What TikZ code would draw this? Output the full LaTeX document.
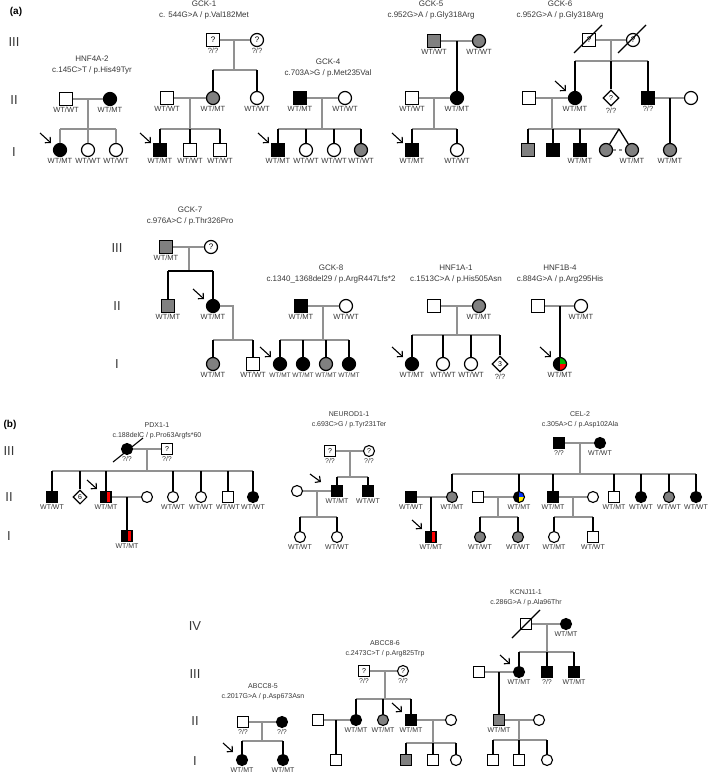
\documentclass[tikz,border=0pt]{standalone}
\usepackage{fontspec}
\setmainfont{Liberation Sans}
\usetikzlibrary{shapes.geometric,arrows.meta,calc}
\definecolor{symgray}{RGB}{128,128,128}
\definecolor{linegray}{RGB}{145,145,145}
\definecolor{txtgray}{RGB}{55,55,55}
\begin{document}
\begin{tikzpicture}[
    x=1pt, y=-1pt,
    ind/.style={draw,line width=1.2pt,inner sep=0pt,minimum size=13pt,font=\fontsize{8}{8}\selectfont},
    male/.style={ind,rectangle},
    fem/.style={ind,circle},
    unk/.style={ind,diamond,minimum size=16pt,font=\fontsize{7}{7}\selectfont},
    aff/.style={fill=black},
    gry/.style={fill=symgray},
    halfred/.style={fill=black,path picture={\fill[red] ([xshift=1pt]path picture bounding box.north) rectangle ([xshift=-1.5pt]path picture bounding box.south east);}},
    yelblu/.style={fill=black,path picture={
        \fill[blue!80!cyan] (path picture bounding box.center) rectangle (path picture bounding box.north east);
        \fill[yellow] (path picture bounding box.center) rectangle (path picture bounding box.south east);}},
    grnred/.style={fill=black,path picture={
        \fill[green!70!black] (path picture bounding box.center) rectangle (path picture bounding box.north east);
        \fill[red] (path picture bounding box.center) rectangle (path picture bounding box.south east);}},
    lbl/.style={font=\fontsize{7.5}{7.5}\selectfont,text=txtgray,inner sep=0pt,text height=5.5pt,text depth=0pt},
    gt/.style={label={[lbl]below:#1}},
    sgt/.style={label={[lbl,font=\fontsize{6.5}{6.5}\selectfont]below:#1}},
    label distance=1pt,
    ttl/.style={font=\fontsize{8}{11}\selectfont,text=txtgray,align=center},
    gen/.style={font=\fontsize{13}{13}\selectfont,text=txtgray},
    gl/.style={draw=linegray,line width=1.3pt},
    bl/.style={draw=black,line width=1.3pt},
    prb/.style={line width=1.1pt,-{Straight Barb[length=4pt,width=8pt]}},
    dead/.style={line width=1.1pt}
]
\useasboundingbox (0,0) rectangle (709,776);

% panel (a), first row
\node[font=\bfseries\fontsize{10}{10}\selectfont] (pa) at (16,12) {(a)};
\node[gen] (ra3) at (14,42) {III};
\node[gen] (ra2) at (14,100) {II};
\node[gen] (ra1) at (14,152) {I};

% HNF4A-2
\node[ttl] (h4t) at (92,65) {HNF4A-2\\c.145C>T / p.His49Tyr};
\node[male,gt=WT/WT] (h4m) at (66,99) {};
\node[fem,aff,gt=WT/MT] (h4f) at (110,99) {};
\node[fem,aff,gt=WT/MT] (h4k1) at (60,150) {};
\node[fem,gt=WT/WT] (h4k2) at (88,150) {};
\node[fem,gt=WT/WT] (h4k3) at (116,150) {};
\coordinate (h4s) at (88,129);
\draw[gl] (h4m) -- (h4f);
\draw[gl] (h4s |- h4m) -- (h4s);
\draw[gl] (h4k1 |- h4s) -- (h4k3 |- h4s);
\foreach \c in {h4k1,h4k2,h4k3} \draw[gl] (\c |- h4s) -- (\c);

% GCK-1
\node[ttl] (g1t) at (204,10) {GCK-1\\c. 544G>A / p.Val182Met};
\node[male,gt=?/?] (g1a) at (213,40) {?};
\node[fem,gt=?/?] (g1b) at (257,40) {?};
\node[fem,gry,gt=WT/MT] (g1c) at (213,98) {};
\node[fem,gt=WT/WT] (g1d) at (257,98) {};
\node[male,gt=WT/WT] (g1e) at (167,98) {};
\node[male,aff,gt=WT/MT] (g1k1) at (160,150) {};
\node[male,gt=WT/WT] (g1k2) at (190,150) {};
\node[male,gt=WT/WT] (g1k3) at (220,150) {};
\coordinate (g1s) at (234,70);
\coordinate (g1u) at (190,129);
\draw[gl] (g1a) -- (g1b);
\draw[gl] (g1s |- g1a) -- (g1s);
\draw[gl] (g1c |- g1s) -- (g1d |- g1s);
\foreach \c in {g1c,g1d} \draw[bl] (\c |- g1s) -- (\c);
\draw[gl] (g1e) -- (g1c);
\draw[gl] (g1u |- g1e) -- (g1u);
\draw[gl] (g1k1 |- g1u) -- (g1k3 |- g1u);
\foreach \c in {g1k1,g1k2,g1k3} \draw[bl] (\c |- g1u) -- (\c);

% GCK-4
\node[ttl] (g4t) at (328,68) {GCK-4\\c.703A>G / p.Met235Val};
\node[male,aff,gt=WT/MT] (g4a) at (300,98) {};
\node[fem,gt=WT/WT] (g4b) at (345,98) {};
\node[male,aff,gt=WT/MT] (g4k1) at (278,150) {};
\node[fem,gt=WT/WT] (g4k2) at (306,150) {};
\node[fem,gt=WT/WT] (g4k3) at (334,150) {};
\node[fem,gry,gt=WT/WT] (g4k4) at (361,150) {};
\coordinate (g4s) at (322,129);
\draw[gl] (g4a) -- (g4b);
\draw[gl] (g4s |- g4a) -- (g4s);
\draw[gl] (g4k1 |- g4s) -- (g4k4 |- g4s);
\foreach \c in {g4k1,g4k2,g4k3,g4k4} \draw[bl] (\c |- g4s) -- (\c);

% GCK-5
\node[ttl] (g5t) at (431,10) {GCK-5\\c.952G>A / p.Gly318Arg};
\node[male,gry,gt=WT/WT] (g5a) at (434,41) {};
\node[fem,gry,gt=WT/WT] (g5b) at (479,41) {};
\node[fem,aff,gt=WT/MT] (g5c) at (457,98) {};
\node[male,gt=WT/WT] (g5d) at (412,98) {};
\node[male,aff,gt=WT/MT] (g5k1) at (412,150) {};
\node[fem,gt=WT/WT] (g5k2) at (457,150) {};
\coordinate (g5s) at (434,129);
\draw[gl] (g5a) -- (g5b);
\draw[bl] (g5c |- g5a) -- (g5c);
\draw[gl] (g5d) -- (g5c);
\draw[gl] (g5s |- g5d) -- (g5s);
\draw[gl] (g5k1 |- g5s) -- (g5k2 |- g5s);
\foreach \c in {g5k1,g5k2} \draw[bl] (\c |- g5s) -- (\c);

% GCK-6
\node[ttl] (g6t) at (560,10) {GCK-6\\c.952G>A / p.Gly318Arg};
\node[male] (g6a) at (589,40) {?};
\node[fem] (g6b) at (633,40) {?};
\node[fem,aff,gt=WT/MT] (g6c) at (575,98) {};
\node[unk,gt=?/?] (g6d) at (611,98) {?};
\node[male,aff,gt=?/?] (g6e) at (648,98) {};
\node[male] (g6f) at (529,98) {};
\node[fem] (g6g) at (691,98) {};
\node[male,gry] (g6k1) at (528,150) {};
\node[male,aff] (g6k2) at (553,150) {};
\node[male,aff,gt=WT/MT] (g6k3) at (580,150) {};
\node[fem,gry] (g6k4) at (606,150) {};
\node[fem,gry,gt=WT/MT] (g6k5) at (632,150) {};
\node[fem,gry,gt=WT/MT] (g6k6) at (670,150) {};
\coordinate (g6s) at (611,61);
\coordinate (g6u) at (552,129);
\coordinate (g6w) at (619,129);
\draw[gl] (g6a) -- (g6b);
\draw[gl] (g6s |- g6a) -- (g6s);
\draw[gl] (g6c |- g6s) -- (g6e |- g6s);
\foreach \c in {g6c,g6d,g6e} \draw[bl] (\c |- g6s) -- (\c);
\draw[gl] (g6f) -- (g6c);
\draw[gl] (g6u |- g6f) -- (g6u);
\draw[gl] (g6k1 |- g6u) -- (g6w);
\foreach \c in {g6k1,g6k2,g6k3} \draw[bl] (\c |- g6u) -- (\c);
\draw[bl] (g6w) -- (g6k4);
\draw[bl] (g6w) -- (g6k5);
\draw[gl,dashed] (g6k4) -- (g6k5);
\draw[gl] (g6e) -- (g6g);
\draw[bl] (g6k6 |- g6e) -- (g6k6);
\foreach \n in {g6a,g6b} \draw[dead] ([shift={(-15pt,-13pt)}]\n.center) -- ([shift={(13pt,15pt)}]\n.center);

% panel (a), second row
\node[gen] (rb3) at (117,248) {III};
\node[gen] (rb2) at (117,306) {II};
\node[gen] (rb1) at (117,364) {I};

% GCK-7
\node[ttl] (g7t) at (190,216) {GCK-7\\c.976A>C / p.Thr326Pro};
\node[male,gry,gt=WT/MT] (g7a) at (166,247) {};
\node[fem] (g7b) at (211,247) {?};
\node[male,gry,gt=WT/MT] (g7c) at (168,306) {};
\node[fem,aff,gt=WT/MT] (g7d) at (213,306) {};
\node[fem,gry,gt=WT/MT] (g7k1) at (213,364) {};
\node[male,gt=WT/WT] (g7k2) at (253,364) {};
\coordinate (g7s) at (189,271);
\coordinate (g7u) at (233,340);
\draw[gl] (g7a) -- (g7b);
\draw[gl] (g7s |- g7a) -- (g7s);
\draw[bl] (g7c |- g7s) -- (g7d |- g7s);
\foreach \c in {g7c,g7d} \draw[bl] (\c |- g7s) -- (\c);
\draw[gl] (g7d) -- (g7u |- g7d) -- (g7u);
\draw[gl] (g7k1 |- g7u) -- (g7k2 |- g7u);
\foreach \c in {g7k1,g7k2} \draw[bl] (\c |- g7u) -- (\c);

% GCK-8
\node[ttl] (g8t) at (331,274) {GCK-8\\c.1340\_1368del29 / p.ArgR447Lfs*2};
\node[male,aff,gt=WT/MT] (g8a) at (301,306) {};
\node[fem,gt=WT/WT] (g8b) at (346,306) {};
\node[fem,aff,sgt=WT/MT] (g8k1) at (280,364) {};
\node[fem,aff,sgt=WT/MT] (g8k2) at (303,364) {};
\node[fem,gry,sgt=WT/MT] (g8k3) at (326,364) {};
\node[fem,aff,sgt=WT/MT] (g8k4) at (349,364) {};
\coordinate (g8s) at (323,340);
\draw[gl] (g8a) -- (g8b);
\draw[gl] (g8s |- g8a) -- (g8s);
\draw[gl] (g8k1 |- g8s) -- (g8k4 |- g8s);
\foreach \c in {g8k1,g8k2,g8k3,g8k4} \draw[bl] (\c |- g8s) -- (\c);

% HNF1A-1
\node[ttl] (hat) at (456,274) {HNF1A-1\\c.1513C>A / p.His505Asn};
\node[male] (haa) at (434,306) {};
\node[fem,gry,gt=WT/MT] (hab) at (479,306) {};
\node[fem,aff,gt=WT/MT] (hak1) at (412,364) {};
\node[fem,gt=WT/WT] (hak2) at (443,364) {};
\node[fem,gt=WT/WT] (hak3) at (471,364) {};
\node[unk,gt=?/?] (hak4) at (500,364) {3};
\coordinate (has) at (457,335);
\draw[gl] (haa) -- (hab);
\draw[gl] (has |- haa) -- (has);
\draw[gl] (hak1 |- has) -- (hak4 |- has);
\foreach \c in {hak1,hak2,hak3,hak4} \draw[bl] (\c |- has) -- (\c);

% HNF1B-4
\node[ttl] (hbt) at (560,274) {HNF1B-4\\c.884G>A / p.Arg295His};
\node[male] (hba) at (538,306) {};
\node[fem,gt=WT/MT] (hbb) at (581,306) {};
\node[fem,grnred,gt=WT/MT] (hbk) at (560,364) {};
\draw[gl] (hba) -- (hbb);
\draw[bl] (hbk |- hba) -- (hbk);

\foreach \n in {h4k1,g1k1,g4k1,g5k1,g6c,g7d,g8k1,hak1,hbk}
    \draw[prb] ([shift={(-20pt,17pt)}]\n.center) -- ([shift={(-9pt,7pt)}]\n.center);

% panel (b) and bottom row, smaller symbols
\begin{scope}[ind/.append style={minimum size=11pt,line width=1.1pt,font=\fontsize{7}{7}\selectfont},
    unk/.append style={minimum size=14pt},
    lbl/.append style={font=\fontsize{7}{7}\selectfont,text height=5pt},
    ttl/.append style={font=\fontsize{7}{10.5}\selectfont},
    gl/.append style={line width=1.2pt}, bl/.append style={line width=1.2pt}]

\node[font=\bfseries\fontsize{10}{10}\selectfont] (pb) at (10,425) {(b)};
\node[gen] (rc3) at (9,451) {III};
\node[gen] (rc2) at (9,497) {II};
\node[gen] (rc1) at (9,536) {I};

% PDX1-1
\node[ttl] (pdt) at (157,431) {PDX1-1\\c.188delC / p.Pro63Argfs*60};
\node[fem,aff,gt=?/?] (pda) at (127,449) {};
\node[male,gt=?/?] (pdb) at (167,449) {?};
\node[male,aff,gt=WT/WT] (pdk1) at (52,497) {};
\node[unk] (pdk2) at (80,497) {6};
\node[male,halfred,gt=WT/MT] (pdk3) at (106,497) {};
\node[fem] (pdc) at (147,497) {};
\node[fem,gt=WT/WT] (pdk4) at (173,497) {};
\node[fem,gt=WT/WT] (pdk5) at (201,497) {};
\node[male,gt=WT/WT] (pdk6) at (228,497) {};
\node[fem,aff,gt=WT/WT] (pdk7) at (253,497) {};
\node[male,halfred,gt=WT/MT] (pdg) at (127,536) {};
\coordinate (pds) at (147,471);
\draw[gl] (pda) -- (pdb);
\draw[gl] (pds |- pda) -- (pds);
\draw[gl] (pdk1 |- pds) -- (pdk7 |- pds);
\foreach \c in {pdk1,pdk2,pdk3,pdk4,pdk5,pdk6,pdk7} \draw[bl] (\c |- pds) -- (\c);
\draw[gl] (pdk3) -- (pdc);
\draw[bl] (pdg |- pdc) -- (pdg);
\draw[dead] ([shift={(-14pt,-13pt)}]pda.center) -- ([shift={(16pt,11pt)}]pda.center);

% NEUROD1-1
\node[ttl] (ndt) at (349,420) {NEUROD1-1\\c.693C>G / p.Tyr231Ter};
\node[male,gt=?/?] (nda) at (330,451) {?};
\node[fem,gt=?/?] (ndb) at (369,451) {?};
\node[male,aff,gt=WT/MT] (ndc) at (337,491) {};
\node[male,aff,gt=WT/WT] (ndd) at (368,491) {};
\node[fem] (nde) at (297,491) {};
\node[fem,gt=WT/WT] (ndk1) at (300,537) {};
\node[fem,gt=WT/WT] (ndk2) at (337,537) {};
\coordinate (nds) at (350,477);
\coordinate (ndu) at (317,517);
\draw[gl] (nda) -- (ndb);
\draw[gl] (nds |- nda) -- (nds);
\draw[gl] (ndc |- nds) -- (ndd |- nds);
\foreach \c in {ndc,ndd} \draw[bl] (\c |- nds) -- (\c);
\draw[gl] (nde) -- (ndc);
\draw[gl] (ndu |- nde) -- (ndu);
\draw[gl] (ndk1 |- ndu) -- (ndk2 |- ndu);
\foreach \c in {ndk1,ndk2} \draw[bl] (\c |- ndu) -- (\c);
\draw[prb] ([shift={(-27pt,17pt)}]ndc.center) -- ([shift={(-16pt,9pt)}]ndc.center);

% CEL-2
\node[ttl] (cet) at (580,420) {CEL-2\\c.305A>C / p.Asp102Ala};
\node[male,aff,gt=?/?] (cea) at (559,443) {};
\node[fem,aff,gt=WT/WT] (ceb) at (600,443) {};
\node[male,aff,gt=WT/WT] (cec) at (411,497) {};
\node[fem,gry,gt=WT/MT] (cek1) at (452,497) {};
\node[male] (ced) at (478,497) {};
\node[fem,yelblu,gt=WT/MT] (cek2) at (519,497) {};
\node[male,aff,gt=WT/MT] (cek3) at (553,497) {};
\node[fem] (cee) at (593,497) {};
\node[male,gt=WT/MT] (cek4) at (614,497) {};
\node[fem,aff,gt=WT/WT] (cek5) at (641,497) {};
\node[fem,gry,gt=WT/WT] (cek6) at (669,497) {};
\node[fem,aff,gt=WT/WT] (cek7) at (696,497) {};
\node[male,halfred,gt=WT/MT] (ceg) at (431,537) {};
\node[fem,gry,gt=WT/WT] (cel1) at (480,537) {};
\node[fem,gry,gt=WT/WT] (cel2) at (518,537) {};
\node[fem,gt=WT/MT] (cem1) at (554,537) {};
\node[male,gt=WT/WT] (cem2) at (593,537) {};
\coordinate (ces) at (580,474);
\coordinate (ceu) at (498,517);
\coordinate (cev) at (573,517);
\draw[gl] (cea) -- (ceb);
\draw[gl] (ces |- cea) -- (ces);
\draw[gl] (cek1 |- ces) -- (cek7 |- ces);
\foreach \c in {cek1,cek2,cek3,cek4,cek5,cek6,cek7} \draw[bl] (\c |- ces) -- (\c);
\draw[gl] (cec) -- (cek1);
\draw[bl] (ceg |- cec) -- (ceg);
\draw[gl] (ced) -- (cek2);
\draw[gl] (ceu |- ced) -- (ceu);
\draw[gl] (cel1 |- ceu) -- (cel2 |- ceu);
\foreach \c in {cel1,cel2} \draw[bl] (\c |- ceu) -- (\c);
\draw[gl] (cek3) -- (cee);
\draw[gl] (cev |- cee) -- (cev);
\draw[gl] (cem1 |- cev) -- (cem2 |- cev);
\foreach \c in {cem1,cem2} \draw[bl] (\c |- cev) -- (\c);

% bottom row
\node[gen] (rd4) at (195,626) {IV};
\node[gen] (rd3) at (195,674) {III};
\node[gen] (rd2) at (195,721) {II};
\node[gen] (rd1) at (195,761) {I};

% ABCC8-5
\node[ttl] (a5t) at (263,692) {ABCC8-5\\c.2017G>A / p.Asp673Asn};
\node[male,gt=?/?] (a5a) at (243,722) {};
\node[fem,aff,gt=?/?] (a5b) at (282,722) {};
\node[fem,aff,gt=WT/MT] (a5k1) at (242,760) {};
\node[fem,aff,gt=WT/MT] (a5k2) at (283,760) {};
\coordinate (a5s) at (262,741);
\draw[gl] (a5a) -- (a5b);
\draw[gl] (a5s |- a5a) -- (a5s);
\draw[gl] (a5k1 |- a5s) -- (a5k2 |- a5s);
\foreach \c in {a5k1,a5k2} \draw[bl] (\c |- a5s) -- (\c);

% ABCC8-6
\node[ttl] (a6t) at (385,649) {ABCC8-6\\c.2473C>T / p.Arg825Trp};
\node[male,gt=?/?] (a6a) at (364,671) {?};
\node[fem,gt=?/?] (a6b) at (403,671) {?};
\node[fem,aff,gt=WT/MT] (a6c) at (356,720) {};
\node[fem,gry,gt=WT/MT] (a6d) at (383,720) {};
\node[male,aff,gt=WT/MT] (a6e) at (411,720) {};
\node[male] (a6f) at (318,720) {};
\node[fem] (a6g) at (451,720) {};
\node[male] (a6h) at (336,760) {};
\node[male,gry] (a6k1) at (406,760) {};
\node[male] (a6k2) at (433,760) {};
\node[fem] (a6k3) at (456,760) {};
\coordinate (a6s) at (385,699);
\coordinate (a6u) at (433,743);
\draw[gl] (a6a) -- (a6b);
\draw[gl] (a6s |- a6a) -- (a6s);
\draw[gl] (a6c |- a6s) -- (a6e |- a6s);
\foreach \c in {a6c,a6d,a6e} \draw[bl] (\c |- a6s) -- (\c);
\draw[gl] (a6f) -- (a6c);
\draw[bl] (a6h |- a6f) -- (a6h);
\draw[gl] (a6e) -- (a6g);
\draw[gl] (a6u |- a6e) -- (a6u);
\draw[gl] (a6k1 |- a6u) -- (a6k3 |- a6u);
\foreach \c in {a6k1,a6k2,a6k3} \draw[bl] (\c |- a6u) -- (\c);

% KCNJ11-1
\node[ttl] (kct) at (526,598) {KCNJ11-1\\c.286G>A / p.Ala96Thr};
\node[male] (kca) at (526,624) {};
\node[fem,aff,gt=WT/MT] (kcb) at (566,624) {};
\node[fem,aff,gt=WT/MT] (kcc) at (519,672) {};
\node[male,aff,gt=?/?] (kcd) at (547,672) {};
\node[male,aff,gt=WT/MT] (kce) at (574,672) {};
\node[male] (kcf) at (479,672) {};
\node[male,gry,gt=WT/MT] (kcg) at (499,720) {};
\node[fem] (kch) at (539,720) {};
\node[male] (kck1) at (493,760) {};
\node[male] (kck2) at (519,760) {};
\node[fem] (kck3) at (547,760) {};
\coordinate (kcs) at (547,652);
\coordinate (kcu) at (519,740);
\draw[gl] (kca) -- (kcb);
\draw[gl] (kcs |- kca) -- (kcs);
\draw[gl] (kcc |- kcs) -- (kce |- kcs);
\foreach \c in {kcc,kcd,kce} \draw[bl] (\c |- kcs) -- (\c);
\draw[gl] (kcf) -- (kcc);
\draw[bl] (kcg |- kcf) -- (kcg);
\draw[gl] (kcg) -- (kch);
\draw[gl] (kcu |- kcg) -- (kcu);
\draw[gl] (kck1 |- kcu) -- (kck3 |- kcu);
\foreach \c in {kck1,kck2,kck3} \draw[bl] (\c |- kcu) -- (\c);
\draw[dead] ([shift={(-14pt,-14pt)}]kca.center) -- ([shift={(14pt,14pt)}]kca.center);

\foreach \n in {pdk3,ceg,a5k1,a6e,kcc}
    \draw[prb] ([shift={(-19pt,17pt)}]\n.center) -- ([shift={(-9pt,8pt)}]\n.center);
\end{scope}
\end{tikzpicture}
\end{document}
